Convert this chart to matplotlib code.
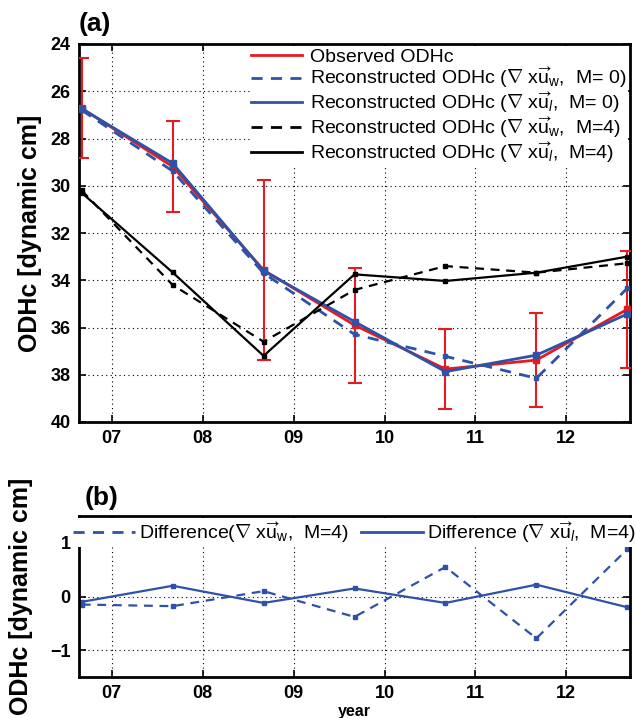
import matplotlib
matplotlib.use("Agg")
import matplotlib.pyplot as plt
from matplotlib.lines import Line2D

plt.rcParams['font.family'] = ['Liberation Sans', 'DejaVu Sans']
plt.rcParams['mathtext.fontset'] = 'custom'
plt.rcParams['mathtext.rm'] = 'Liberation Sans'
plt.rcParams['mathtext.it'] = 'Liberation Sans:italic'
plt.rcParams['mathtext.bf'] = 'Liberation Sans:bold'

# ---------------- data ----------------
years = [6.67, 7.67, 8.67, 9.67, 10.67, 11.67, 12.67]
observed = [26.72, 29.19, 33.57, 35.9, 37.76, 37.38, 35.23]
obs_err = [2.12, 1.93, 3.8, 2.43, 1.69, 2.0, 2.47]
rec_w_m0 = [26.8, 29.38, 33.7, 36.29, 37.22, 38.15, 34.34]
rec_l_m0 = [26.74, 29.05, 33.6, 35.75, 37.87, 37.17, 35.43]
rec_w_m4 = [30.2, 34.2, 36.6, 34.41, 33.4, 33.68, 33.28]
rec_l_m4 = [30.3, 33.67, 37.2, 33.75, 34.03, 33.68, 33.0]

diff_w = [-0.15, -0.18, 0.1, -0.38, 0.55, -0.78, 0.88]
diff_l = [-0.1, 0.2, -0.12, 0.15, -0.12, 0.22, -0.2]

xticks = [7, 8, 9, 10, 11, 12]
xticklabels = ['07', '08', '09', '10', '11', '12']
yticks_a = [24, 26, 28, 30, 32, 34, 36, 38, 40]
yticks_b = [-1, 0, 1]

labels_a = [
    "Observed ODHc",
    r"Reconstructed ODHc ($\nabla$ x$\overrightarrow{\mathrm{u}}_{\mathrm{w}}$,  M= 0)",
    r"Reconstructed ODHc ($\nabla$ x$\overrightarrow{\mathrm{u}}_{l}$,  M= 0)",
    r"Reconstructed ODHc ($\nabla$ x$\overrightarrow{\mathrm{u}}_{\mathrm{w}}$,  M=4)",
    r"Reconstructed ODHc ($\nabla$ x$\overrightarrow{\mathrm{u}}_{l}$,  M=4)",
]
labels_b = [
    r"Difference($\nabla$ x$\overrightarrow{\mathrm{u}}_{\mathrm{w}}$,  M=4)",
    r"Difference ($\nabla$ x$\overrightarrow{\mathrm{u}}_{l}$,  M=4)",
]

RED = '#e8191f'
BLUE = '#2f52a8'

fig = plt.figure(figsize=(6.36, 7.18), dpi=100)
ax1 = fig.add_axes([79/636, 1-422/718, 551/636, 378/718])
ax2 = fig.add_axes([79/636, 1-677/718, 551/636, 161/718])

grid_style = dict(color='black', linestyle=(0, (1, 3)), linewidth=0.8)

def style(ax):
    for s in ax.spines.values():
        s.set_linewidth(2)
        s.set_color('black')
    ax.tick_params(direction='in', top=True, right=True, length=5, width=1.2,
                   labelsize=13, pad=6)
    for lab in ax.get_xticklabels() + ax.get_yticklabels():
        lab.set_fontweight('bold')
    ax.grid(True, **grid_style)
    ax.set_axisbelow(True)

# ---------------- panel (a) ----------------
ax1.errorbar(years, observed, yerr=obs_err, color=RED, lw=2, capsize=5,
             capthick=1.5, elinewidth=1.5, marker='s', ms=4, label=labels_a[0],
             zorder=3)
ax1.plot(years, rec_w_m0, color=BLUE, ls=(0, (4, 3)), lw=2, marker='s', ms=3.5,
         label=labels_a[1], zorder=4)
ax1.plot(years, rec_l_m0, color=BLUE, ls='-', lw=2, marker='s', ms=4,
         label=labels_a[2], zorder=4)
ax1.plot(years, rec_w_m4, color='black', ls=(0, (4, 3)), lw=1.6, marker='s', ms=3.5,
         label=labels_a[3], zorder=4)
ax1.plot(years, rec_l_m4, color='black', ls='-', lw=1.6, marker='s', ms=3.5,
         label=labels_a[4], zorder=4)

ax1.set_xlim(6.64, 12.7)
ax1.set_ylim(40, 24)
ax1.set_xticks(xticks)
ax1.set_xticklabels(xticklabels)
ax1.set_yticks(yticks_a)
style(ax1)
ax1.set_ylabel('ODHc [dynamic cm]', fontsize=18, fontweight='bold', labelpad=6)
ax1.text(0.0, 1.02, '(a)', transform=ax1.transAxes, fontsize=19,
         fontweight='bold', ha='left', va='bottom')

handles_a = [
    Line2D([], [], color=RED, lw=2),
    Line2D([], [], color=BLUE, lw=2, ls=(0, (4, 3))),
    Line2D([], [], color=BLUE, lw=2),
    Line2D([], [], color='black', lw=2, ls=(0, (4, 3))),
    Line2D([], [], color='black', lw=2),
]
ax1.legend(handles_a, labels_a, loc='upper right', fontsize=14,
           frameon=True, fancybox=False, framealpha=1, edgecolor='none',
           facecolor='white', handlelength=2.6, handletextpad=0.4,
           labelspacing=0.0, borderaxespad=0.1, borderpad=0.1)

# ---------------- panel (b) ----------------
ax2.plot(years, diff_w, color=BLUE, ls=(0, (4, 3)), lw=1.6, marker='s', ms=3,
         label=labels_b[0])
ax2.plot(years, diff_l, color=BLUE, ls='-', lw=1.6, marker='s', ms=3,
         label=labels_b[1])
ax2.set_xlim(6.64, 12.7)
ax2.set_ylim(-1.5, 1.5)
ax2.set_xticks(xticks)
ax2.set_xticklabels(xticklabels)
ax2.set_yticks(yticks_b)
style(ax2)
ax2.set_ylabel('ODHc [dynamic cm]', fontsize=18, fontweight='bold', labelpad=12)
ax2.set_xlabel('year', fontsize=11.5, fontweight='bold', labelpad=1)
ax2.text(0.01, 1.04, '(b)', transform=ax2.transAxes, fontsize=19,
         fontweight='bold', ha='left', va='bottom')
handles_b = [
    Line2D([], [], color=BLUE, lw=2, ls=(0, (4, 3))),
    Line2D([], [], color=BLUE, lw=2),
]
ax2.legend(handles_b, labels_b, loc='upper center', ncol=2, fontsize=14,
           frameon=True, fancybox=False, framealpha=1, edgecolor='none',
           facecolor='white', handlelength=3.2, handletextpad=0.2,
           columnspacing=0.6, borderaxespad=0.1, borderpad=0.1)

fig.savefig('out.png', dpi=100)
